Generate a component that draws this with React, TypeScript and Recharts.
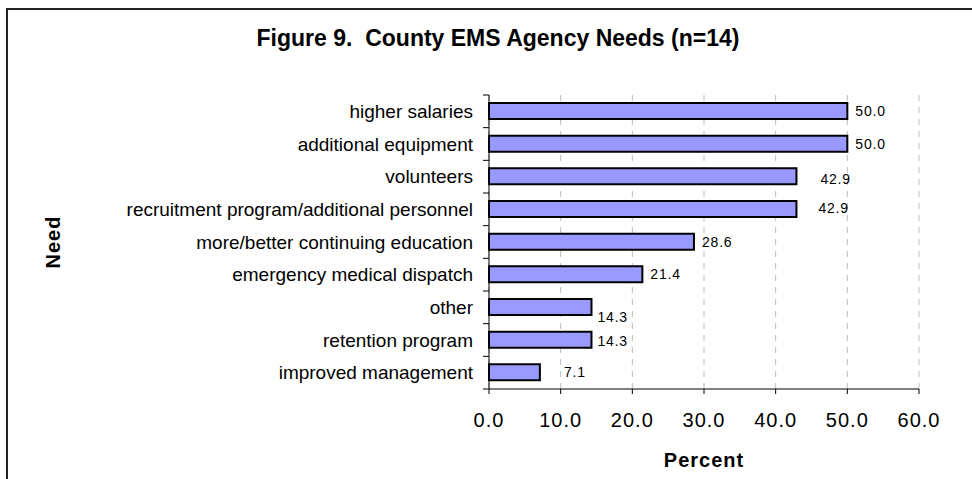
import React from "react";
import {
  BarChart,
  Bar,
  XAxis,
  YAxis,
  CartesianGrid,
  Label,
} from "recharts";

const needs = [
  "higher salaries",
  "additional equipment",
  "volunteers",
  "recruitment program/additional personnel",
  "more/better continuing education",
  "emergency medical dispatch",
  "other",
  "retention program",
  "improved management",
];
const percents = [50.0, 50.0, 42.9, 42.9, 28.6, 21.4, 14.3, 14.3, 7.1];
const xTicks = [0, 10, 20, 30, 40, 50, 60];

// Excel put some labels a bit off the bar end
const labelGap = [8, 8, 24, 22, 8, 8, 6, 6, 24];
const labelDy = [0, 0, 3, -1, 0, 0, 10, 1, 0];

const data = needs.map((need, i) => ({ need, pct: percents[i] }));

const FONT = "'Liberation Sans', Arial, sans-serif";

function renderValue(props: any) {
  const { x, y, width, height, value, index } = props;
  const i = typeof index === "number" ? index : 0;
  return (
    <text
      key={`lbl-${i}`}
      x={Number(x) + Number(width) + labelGap[i]}
      y={Number(y) + Number(height) / 2 + labelDy[i]}
      dominantBaseline="central"
      fontSize={14}
      letterSpacing={0.8}
      fontFamily={FONT}
      fill="#000"
    >
      {Number(value).toFixed(1)}
    </text>
  );
}

// category tick: label at band centre, tick mark on band boundaries (Excel style)
function NeedTick(props: any) {
  const { x, y, payload, index } = props;
  const half = payload && payload.offset ? payload.offset : 16.33;
  const axisX = x + 16;
  const last = index === needs.length - 1;
  return (
    <g>
      <line x1={axisX - 6} x2={axisX} y1={y - half} y2={y - half} stroke="#000" />
      {last && (
        <line x1={axisX - 6} x2={axisX} y1={y + half} y2={y + half} stroke="#000" />
      )}
      <text
        x={x}
        y={y}
        textAnchor="end"
        dominantBaseline="central"
        fontSize={19}
        fontFamily={FONT}
        fill="#000"
      >
        {payload.value}
      </text>
    </g>
  );
}

export default function App() {
  return (
    <div
      style={{
        position: "fixed",
        left: 0,
        top: 0,
        width: 972,
        height: 479,
        overflow: "hidden",
        background: "#fff",
        fontFamily: FONT,
      }}
    >
      <div
        style={{
          position: "absolute",
          left: 0,
          width: 996,
          top: 25,
          textAlign: "center",
          fontWeight: "bold",
          fontSize: 23,
          whiteSpace: "pre",
          color: "#000",
        }}
      >
        {"Figure 9.  County EMS Agency Needs (n=14)"}
      </div>
      <div style={{ position: "absolute", left: 0, top: 0 }}>
        <BarChart
          width={972}
          height={479}
          data={data}
          layout="vertical"
          margin={{ top: 95, right: 53, bottom: 0, left: 0 }}
        >
          <CartesianGrid
            horizontal={false}
            stroke="#bdbdbd"
            strokeDasharray="6 6"
          />
          <XAxis
            type="number"
            dataKey="pct"
            domain={[0, 60]}
            ticks={xTicks}
            interval={0}
            height={90}
            tickFormatter={(v: number) => v.toFixed(1)}
            tick={{ fontSize: 20, fill: "#000", fontFamily: FONT, letterSpacing: 1 }}
            tickSize={5}
            tickMargin={19}
            axisLine={{ stroke: "#000" }}
            tickLine={{ stroke: "#000" }}
          >
            <Label
              value="Percent"
              position="insideBottom"
              offset={12}
              style={{
                fontSize: 20,
                fontWeight: "bold",
                fill: "#000",
                fontFamily: FONT,
                letterSpacing: 1,
              }}
            />
          </XAxis>
          <YAxis
            type="category"
            dataKey="need"
            width={489}
            interval={0}
            tickLine={false}
            axisLine={{ stroke: "#000" }}
            tickSize={0}
            tickMargin={16}
            tick={<NeedTick />}
          >
            <Label
              content={(p: any) => {
                const vb = p.viewBox;
                const cx = vb.x + 53;
                const cy = vb.y + vb.height / 2;
                return (
                  <text
                    x={cx}
                    y={cy}
                    transform={`rotate(-90 ${cx} ${cy})`}
                    textAnchor="middle"
                    dominantBaseline="central"
                    fontSize={20}
                    fontWeight="bold"
                    fontFamily={FONT}
                    letterSpacing={1}
                    fill="#000"
                  >
                    Need
                  </text>
                );
              }}
            />
          </YAxis>
          <Bar
            dataKey="pct"
            barSize={16}
            fill="#9999ff"
            stroke="#000"
            strokeWidth={2}
            isAnimationActive={false}
            label={renderValue}
          />
        </BarChart>
      </div>
      <div
        style={{
          position: "absolute",
          left: 6,
          top: 8,
          width: 1000,
          height: 500,
          border: "2px solid #222",
          boxSizing: "border-box",
          pointerEvents: "none",
        }}
      />
    </div>
  );
}
